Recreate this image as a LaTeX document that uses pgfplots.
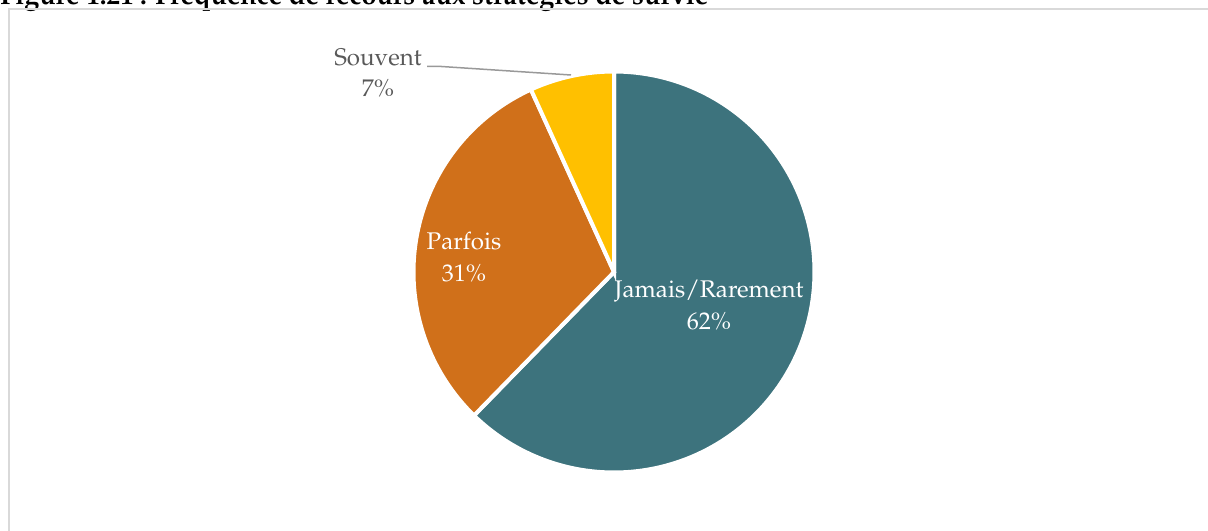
\documentclass[border=0pt]{standalone}
\usepackage[T1]{fontenc}
\usepackage{mathpazo}
\usepackage{pgfplots}
\usepackage{pgfplotstable}
\pgfplotsset{compat=1.18}
\definecolor{jam}{RGB}{61,115,125}
\definecolor{par}{RGB}{208,112,26}
\definecolor{sou}{RGB}{255,192,0}
\definecolor{lab}{RGB}{89,89,89}
\definecolor{frame}{RGB}{217,217,217}
\pgfplotstableread{
label value
Jamais 62.3
Parfois 30.9
Souvent 6.8
}\piedata
\pgfplotstablegetelem{0}{value}\of\piedata \let\va\pgfplotsretval
\pgfplotstablegetelem{1}{value}\of\piedata \let\vb\pgfplotsretval
\pgfplotstablegetelem{2}{value}\of\piedata \let\vc\pgfplotsretval
\pgfmathsetmacro{\aA}{90-3.6*\va}
\pgfmathsetmacro{\aB}{\aA-3.6*\vb}
\pgfmathsetmacro{\aC}{\aB-3.6*\vc}
\begin{document}
\begin{tikzpicture}
\useasboundingbox (0,0) rectangle (604bp,-265.5bp);
\node[anchor=base west,inner sep=0pt] at (0,-2.2bp) {\resizebox{354bp}{!}{\bfseries Figure 1.21 : Fr\'equence de recours aux strat\'egies de survie}};
\draw[frame, line width=0.9bp] (4.35bp,-270bp) -- (4.35bp,-4.35bp) -- (610bp,-4.35bp);
\begin{axis}[
  at={(307bp,-136bp)}, anchor=origin,
  x=100.25bp, y=100.25bp,
  xmin=-1.1, xmax=1.1, ymin=-1.1, ymax=1.1,
  hide axis, clip=false]
\addplot[fill=jam, draw=white, line width=2bp, domain=\aA:90, samples=150, variable=\t] ({cos(\t)},{sin(\t)}) -- (0,0) -- cycle;
\addplot[fill=par, draw=white, line width=2bp, domain=\aB:\aA, samples=100, variable=\t] ({cos(\t)},{sin(\t)}) -- (0,0) -- cycle;
\addplot[fill=sou, draw=white, line width=2bp, domain=\aC:\aB, samples=40, variable=\t] ({cos(\t)},{sin(\t)}) -- (0,0) -- cycle;
\end{axis}
\begin{scope}[font=\fontsize{12.1}{14.5}\selectfont]
\node[white, align=center, inner sep=0pt] at (354.5bp,-152.5bp) {Jamais/Rarement\\[1.2bp]62\%};
\node[white, align=center, inner sep=0pt] at (232bp,-128.5bp) {Parfois\\[1.2bp]31\%};
\node[lab, align=center, inner sep=0pt] at (189bp,-36.5bp) {Souvent\\[1.2bp]7\%};
\draw[black!40, line width=0.75bp] (213.5bp,-33.2bp) -- (220bp,-33.2bp) -- (285.5bp,-37.5bp);
\end{scope}
\end{tikzpicture}
\end{document}
